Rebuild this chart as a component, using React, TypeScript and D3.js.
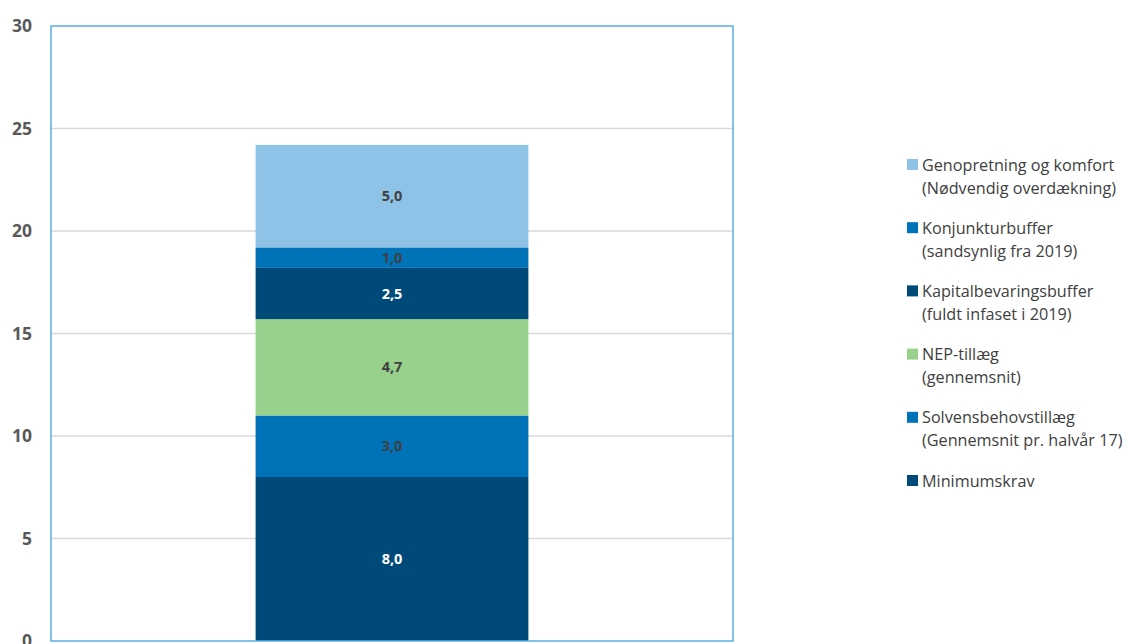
import React, { useRef, useEffect } from "react";
import * as d3 from "d3";

// stacked segments, bottom to top
const seriesNames = [
  ["Minimumskrav"],
  ["Solvensbehovstillæg", "(Gennemsnit pr. halvår 17)"],
  ["NEP-tillæg", "(gennemsnit)"],
  ["Kapitalbevaringsbuffer", "(fuldt infaset i 2019)"],
  ["Konjunkturbuffer", "(sandsynlig fra 2019)"],
  ["Genopretning og komfort", "(Nødvendig overdækning)"],
];
const seriesValues = [8.0, 3.0, 4.7, 2.5, 1.0, 5.0];
const seriesColors = ["#004a7a", "#0072b8", "#98d18b", "#004a7a", "#0072b8", "#8ec3e7"];
const labelColors = ["#ffffff", "#404040", "#404040", "#ffffff", "#404040", "#404040"];
const yTicks = [0, 5, 10, 15, 20, 25, 30];

const App = () => {
  const ref = useRef<SVGSVGElement>(null);
  const width = 1128;
  const height = 644;
  const margin = { top: 26, left: 51, right: 733, bottom: 641 };

  useEffect(() => {
    const svg = d3.select(ref.current);
    svg.selectAll("*").remove();

    const yScale = d3.scaleLinear().domain([0, 30]).range([margin.bottom, margin.top]);
    const xScale = d3
      .scaleBand()
      .domain(["bar"])
      .range([margin.left, margin.right])
      .paddingInner(0)
      .paddingOuter(0.75);

    // grid lines
    svg
      .append("g")
      .selectAll("line")
      .data(yTicks.filter((t) => t > 0 && t < 30))
      .enter()
      .append("line")
      .attr("x1", margin.left)
      .attr("x2", margin.right)
      .attr("y1", (d) => yScale(d))
      .attr("y2", (d) => yScale(d))
      .attr("stroke", "#d9d9d9")
      .attr("stroke-width", 1.5);

    // y axis
    const yAxis = d3
      .axisLeft(yScale)
      .tickValues(yTicks)
      .tickSize(0)
      .tickPadding(19);
    svg
      .append("g")
      .attr("transform", `translate(${margin.left},0)`)
      .call(yAxis)
      .call((g) => g.select(".domain").remove())
      .selectAll("text")
      .attr("font-family", "Open Sans")
      .attr("font-size", 17.5)
      .attr("font-weight", "bold")
      .attr("fill", "#595959");

    // stack
    const stacked = seriesValues.map((v, i) => {
      const y0 = d3.sum(seriesValues.slice(0, i));
      return { v, y0, y1: y0 + v, i };
    });

    const bars = svg.append("g");
    bars
      .selectAll("rect")
      .data(stacked)
      .enter()
      .append("rect")
      .attr("x", xScale("bar")!)
      .attr("width", xScale.bandwidth())
      .attr("y", (d) => yScale(d.y1))
      .attr("height", (d) => yScale(d.y0) - yScale(d.y1))
      .attr("fill", (d) => seriesColors[d.i]);

    bars
      .selectAll("text")
      .data(stacked)
      .enter()
      .append("text")
      .attr("x", xScale("bar")! + xScale.bandwidth() / 2)
      .attr("y", (d) => (yScale(d.y0) + yScale(d.y1)) / 2)
      .attr("dy", "0.35em")
      .attr("text-anchor", "middle")
      .attr("font-family", "Open Sans")
      .attr("font-size", 14.5)
      .attr("font-weight", "bold")
      .attr("fill", (d) => labelColors[d.i])
      .text((d) => d3.format(".1f")(d.v).replace(".", ","));

    // plot border
    svg
      .append("rect")
      .attr("x", margin.left)
      .attr("y", margin.top)
      .attr("width", margin.right - margin.left)
      .attr("height", margin.bottom - margin.top)
      .attr("fill", "none")
      .attr("stroke", "#5aaee3")
      .attr("stroke-width", 1.5);

    // legend, top entry is the last series
    const legendOrder = d3.range(seriesNames.length).reverse();
    const legend = svg
      .append("g")
      .selectAll("g")
      .data(legendOrder)
      .enter()
      .append("g")
      .attr("transform", (d, k) => `translate(907,${165 + k * 63.2})`);
    legend
      .append("rect")
      .attr("x", 0)
      .attr("y", -6)
      .attr("width", 11)
      .attr("height", 11)
      .attr("fill", (d) => seriesColors[d]);
    legend
      .selectAll("text")
      .data((d) => seriesNames[d])
      .enter()
      .append("text")
      .attr("x", 15)
      .attr("y", (d, j) => j * 23)
      .attr("dy", "0.35em")
      .attr("font-family", "Open Sans")
      .attr("font-size", 16.2)
      .attr("fill", "#404040")
      .text((d) => d);
  }, []);

  return (
    <svg
      ref={ref}
      width={width}
      height={height}
      style={{ position: "absolute", left: 0, top: 0, background: "#fff" }}
    />
  );
};

export default App;
